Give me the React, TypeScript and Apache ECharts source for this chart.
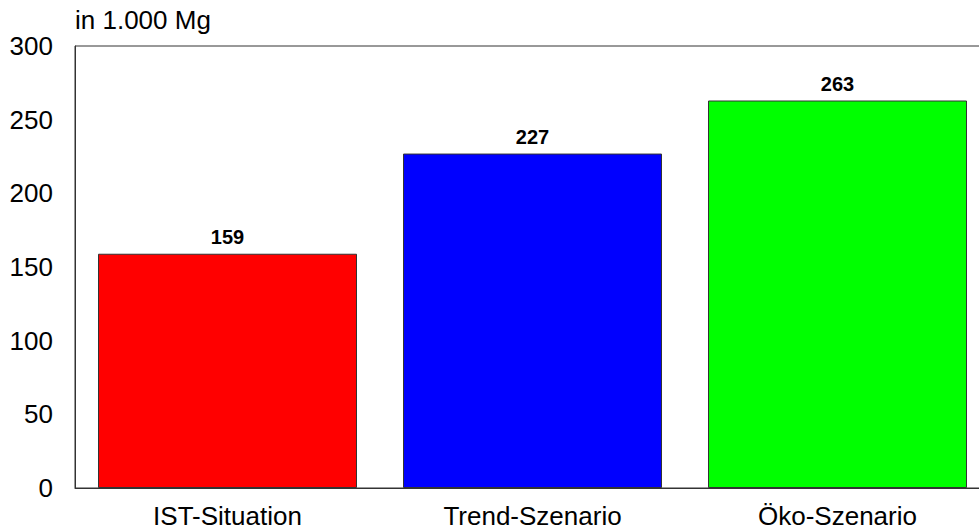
import React, { useEffect, useRef } from "react";
import * as echarts from "echarts";

const categories = ["IST-Situation", "Trend-Szenario", "Öko-Szenario"];
const values = [159, 227, 263];
const colors = ["#ff0000", "#0000ff", "#00ff00"];
const unitLabel = "in 1.000 Mg";

export default function App() {
  const ref = useRef<HTMLDivElement>(null);
  useEffect(() => {
    if (!ref.current) return;
    const chart = echarts.init(ref.current, null, { renderer: "svg" });
    chart.setOption({
      animation: false,
      backgroundColor: "#ffffff",
      textStyle: { fontFamily: "Liberation Sans, Arial, sans-serif" },
      grid: {
        left: 75,
        top: 46,
        width: 915,
        height: 442,
        show: true,
        borderColor: "#333333",
        borderWidth: 1,
        backgroundColor: "transparent",
      },
      graphic: [
        {
          type: "text",
          left: 75,
          top: 7,
          style: {
            text: unitLabel,
            fontSize: 26,
            fill: "#000",
            fontFamily: "Liberation Sans, Arial, sans-serif",
          },
        },
      ],
      xAxis: {
        type: "category",
        data: categories,
        axisLine: { show: true, lineStyle: { color: "#333333", width: 1 } },
        axisTick: { show: false },
        axisLabel: { fontSize: 26, color: "#000", margin: 15 },
      },
      yAxis: {
        type: "value",
        min: 0,
        max: 300,
        interval: 50,
        axisLine: { show: true, lineStyle: { color: "#333333", width: 1 } },
        axisTick: { show: false },
        splitLine: { show: false },
        axisLabel: { fontSize: 26, color: "#000", margin: 22 },
      },
      series: [
        {
          type: "bar",
          barWidth: 259,
          data: values.map((v, i) => ({
            value: v,
            itemStyle: { color: colors[i], borderColor: "#333333", borderWidth: 1 },
          })),
          label: {
            show: true,
            position: "top",
            distance: 7,
            fontSize: 20,
            fontWeight: "bold",
            color: "#000",
          },
        },
      ],
    });
    return () => chart.dispose();
  }, []);
  return (
    <div
      style={{
        position: "fixed",
        left: 0,
        top: 0,
        width: 979,
        height: 532,
        overflow: "hidden",
        background: "#fff",
      }}
    >
      <div ref={ref} style={{ width: 1000, height: 532 }} />
    </div>
  );
}
